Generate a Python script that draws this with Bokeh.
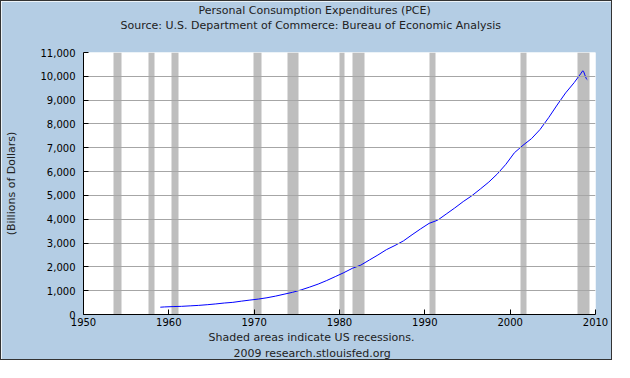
from bokeh.plotting import figure
from bokeh.models import Range1d, FixedTicker, NumeralTickFormatter, Title
from bokeh.embed import file_html
from bokeh.resources import INLINE

# Personal Consumption Expenditures, billions of dollars (SAAR)
years = [1959.0, 1959.5, 1960.5, 1961.5, 1962.5, 1963.5, 1964.5, 1965.5, 1966.5,
         1967.5, 1968.5, 1969.5, 1970.5, 1971.5, 1972.5, 1973.5, 1974.5, 1975.5,
         1976.5, 1977.5, 1978.5, 1979.5, 1980.5, 1981.5, 1982.5, 1983.5, 1984.5,
         1985.5, 1986.5, 1987.5, 1988.5, 1989.5, 1990.5, 1991.5, 1992.5, 1993.5,
         1994.5, 1995.5, 1996.5, 1997.5, 1998.5, 1999.5, 2000.5, 2001.5, 2002.5,
         2003.5, 2004.5, 2005.5, 2006.5, 2007.5, 2008.0, 2008.25, 2008.5, 2008.6,
         2008.75, 2008.92, 2009.04]
pce = [306, 318, 332, 343, 363, 383, 411, 444, 482,
       510, 560, 605, 648, 703, 771, 852, 932, 1033,
       1150, 1277, 1426, 1590, 1755, 1938, 2074, 2287, 2498,
       2723, 2898, 3092, 3347, 3593, 3826, 3960, 4216, 4471,
       4741, 4984, 5268, 5561, 5903, 6307, 6792, 7103, 7384,
       7766, 8260, 8794, 9304, 9734, 9980, 10100, 10230, 10210,
       10060, 9900, 9860]

# US recessions (NBER)
rec_start = [1953.55, 1957.6, 1960.3, 1969.9, 1973.85, 1980.0, 1981.5, 1990.5, 2001.2, 2007.9]
rec_end = [1954.4, 1958.3, 1961.1, 1970.85, 1975.2, 1980.55, 1982.9, 1991.2, 2001.9, 2009.33]

x_ticks = [1950, 1960, 1970, 1980, 1990, 2000, 2010]
y_ticks = [0, 1000, 2000, 3000, 4000, 5000, 6000, 7000, 8000, 9000, 10000, 11000]
grid_ticks = [1000, 2000, 3000, 4000, 5000, 6000, 7000, 8000, 9000, 10000]

title_text = "Personal Consumption Expenditures (PCE)"
subtitle_text = "Source: U.S. Department of Commerce: Bureau of Economic Analysis"
note_text = "Shaded areas indicate US recessions."
credit_text = "2009 research.stlouisfed.org"
ylabel = "(Billions of Dollars)"

BG = "#B4CDE4"
FONT = "DejaVu Sans"
TXT = "#222222"

p = figure(width=612, height=360, output_backend="svg", toolbar_location=None,
           x_range=Range1d(1950, 2010), y_range=Range1d(0, 11000),
           min_border_left=82, min_border_right=18, min_border_top=51,
           min_border_bottom=44,
           background_fill_color="white", border_fill_color=BG,
           outline_line_color=None,
           styles={"border": "1px solid #333333"})
p.title.text = ""

p.vstrip(x0=rec_start, x1=rec_end, fill_color="#BEBEBE", line_color=None)
p.line(years, pce, line_color="#0000FF", line_width=1)

p.xgrid.visible = False
p.ygrid.ticker = FixedTicker(ticks=grid_ticks)
p.ygrid.grid_line_color = "#A6A6A6"
p.ygrid.level = "glyph"

for ax in (p.xaxis, p.yaxis):
    ax.axis_line_color = "black"
    ax.major_tick_line_color = "black"
    ax.major_tick_in = 5
    ax.major_tick_out = 0
    ax.minor_tick_line_color = None
    ax.major_label_text_font = FONT
    ax.major_label_text_font_size = "10px"
    ax.major_label_text_color = "black"

p.xaxis.ticker = FixedTicker(ticks=x_ticks)
p.xaxis.major_label_standoff = 3
p.yaxis.ticker = FixedTicker(ticks=y_ticks)
p.yaxis.formatter = NumeralTickFormatter(format="0,0")
p.yaxis.major_label_standoff = 8
p.yaxis.axis_label = ylabel
p.yaxis.axis_label_text_font = FONT
p.yaxis.axis_label_text_font_size = "11px"
p.yaxis.axis_label_text_font_style = "normal"
p.yaxis.axis_label_text_color = TXT
p.yaxis.axis_label_standoff = 20

def mk_title(text, off, so):
    return Title(text=text, align="left", offset=off, text_font=FONT,
                 text_font_size="11px", text_font_style="normal",
                 text_color=TXT, standoff=so)

# above: spacer, subtitle, title (stacked outward from the frame)
p.add_layout(mk_title(" ", 0, 6), "above")
p.add_layout(mk_title(subtitle_text, 37, 0), "above")
p.add_layout(mk_title(title_text, 115, 0), "above")
# below: note then credit
p.add_layout(mk_title(note_text, 125, 0), "below")
p.add_layout(mk_title(credit_text, 150, 3), "below")

open("out.html", "w").write(file_html(p, INLINE))
